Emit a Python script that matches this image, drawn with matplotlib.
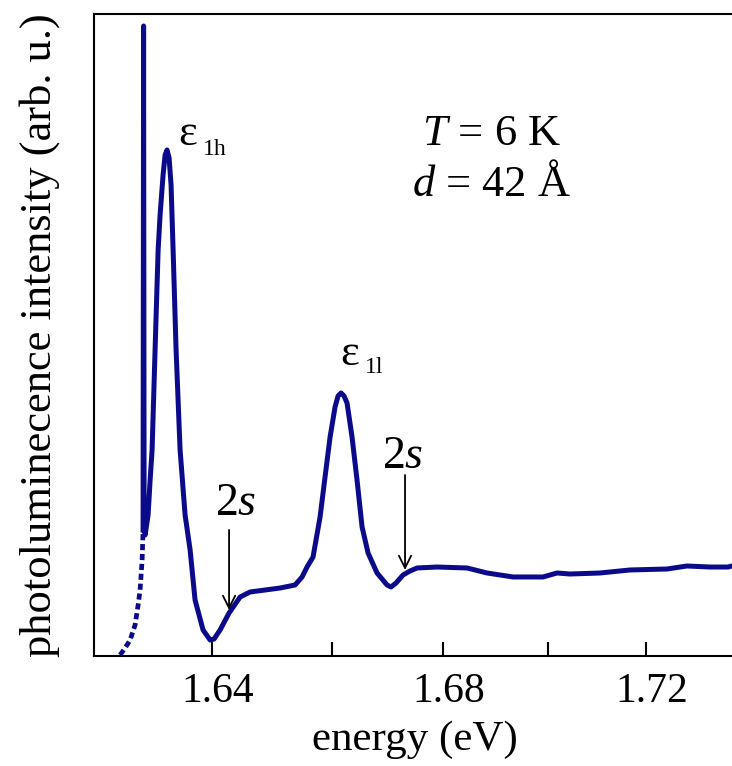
import numpy as np
import matplotlib
matplotlib.use("Agg")
import matplotlib.pyplot as plt
from matplotlib.transforms import ScaledTranslation

plt.rcParams['font.family'] = ['Liberation Serif', 'DejaVu Serif']
plt.rcParams['mathtext.fontset'] = 'custom'
plt.rcParams['mathtext.rm'] = 'Liberation Serif'
plt.rcParams['mathtext.it'] = 'Liberation Serif:italic'

# the energy axis of the original is not linear: calibration of tick energies
AXIS_E = np.array([1.50, 1.62, 1.64, 1.66, 1.68, 1.70, 1.72, 1.74, 1.90])
AXIS_POS = np.array([-677., 85., 212., 332., 443., 548., 646., 738., 1474.])

# low-energy edge (dashed part)
E_EDGE = [1.62551, 1.62630, 1.62709, 1.62787, 1.62835, 1.62866, 1.62898, 1.62913]
I_EDGE = [0.16, 1.25, 2.49, 4.83, 7.94, 10.28, 14.95, 19.63]

# photoluminescence spectrum
E_PL = [1.62913, 1.62921, 1.62929, 1.62945, 1.62992, 1.63024, 1.63055, 1.63102,
        1.63150, 1.63181, 1.63228, 1.63260, 1.63291, 1.63323, 1.63354, 1.63386,
        1.63433, 1.63496, 1.63575, 1.63654, 1.63732, 1.63858, 1.63969, 1.64033,
        1.64133, 1.64283, 1.64467, 1.64633, 1.64883, 1.65133, 1.65383, 1.65500,
        1.65583, 1.65683, 1.65800, 1.65883, 1.65967, 1.66054, 1.66108, 1.66162,
        1.66216, 1.66270, 1.66360, 1.66450, 1.66541, 1.66649, 1.66811, 1.66991,
        1.67063, 1.67153, 1.67279, 1.67405, 1.67532, 1.67892, 1.68457, 1.68838,
        1.69333, 1.69905, 1.70184, 1.70449, 1.71061, 1.71673, 1.72457, 1.72891,
        1.73391, 1.73783, 1.73870]
I_PL = [19.63, 98.13, 24.30, 18.85, 21.96, 27.41, 32.09, 47.66,
        63.24, 68.69, 74.92, 78.04, 78.82, 77.57, 73.36, 63.24,
        47.66, 32.09, 21.96, 16.51, 8.72, 4.05, 2.49, 2.65,
        4.05, 6.70, 9.19, 9.97, 10.28, 10.59, 11.06, 12.31,
        13.86, 15.42, 21.65, 27.88, 34.11, 38.79, 40.50, 40.97,
        40.50, 39.41, 34.11, 27.41, 20.09, 16.04, 12.93, 11.06,
        10.75, 11.37, 12.62, 13.24, 13.71, 13.86, 13.71, 12.93,
        12.31, 12.31, 12.93, 12.77, 12.93, 13.40, 13.55, 14.02,
        13.86, 13.86, 14.02]

# 2s features: energy, arrow tip, arrow tail
E_2S = [1.64283, 1.67315]
TIP_2S = [7.17, 13.40]
TAIL_2S = [19.63, 28.19]

MAJOR = [1.64, 1.68, 1.72]
MAJOR_LABELS = ['1.64', '1.68', '1.72']
MINOR = [1.66, 1.70]
LINE = '#0a0a8a'


def fwd(e):
    return np.interp(e, AXIS_E, AXIS_POS)


def inv(p):
    return np.interp(p, AXIS_POS, AXIS_E)


fig = plt.figure(figsize=(7.32, 7.66), dpi=100)
ax = fig.add_axes([94 / 732, 110 / 766, 638 / 732, 642 / 766])
ax.set_xscale('function', functions=(fwd, inv))

ax.plot(E_EDGE, I_EDGE, color=LINE, lw=3.4, ls=(0, (1.3, 0.8)))
ax.plot(E_PL, I_PL, color=LINE, lw=3.6, solid_joinstyle='round')

for e, tip, tail in zip(E_2S, TIP_2S, TAIL_2S):
    ax.annotate('', xy=(e, tip), xytext=(e, tail),
                arrowprops=dict(arrowstyle='->', lw=1.3, color='black',
                                shrinkA=0, shrinkB=0, mutation_scale=22))

ax.text(1.6440, 21.96, '2$s$', fontsize=33, ha='center', va='baseline')
ax.text(1.6728, 29.28, '2$s$', fontsize=33, ha='center', va='baseline')

ax.text(1.63465, 79.6, 'ε', fontsize=32, ha='left', va='baseline')
ax.text(1.63858, 78.04, '1h', fontsize=17, ha='left', va='baseline')
ax.text(1.66144, 45.33, 'ε', fontsize=32, ha='left', va='baseline')
ax.text(1.66595, 44.08, '1l', fontsize=17, ha='left', va='baseline')

ax.text(1.68933, 79.6, '$T$ = 6 K', fontsize=32, ha='center', va='baseline')
ax.text(1.68925, 71.65, '$d$ = 42 Å', fontsize=32, ha='center', va='baseline')

ax.set_xlim(1.6214, 1.7387)
ax.set_ylim(0, 100)
ax.set_xticks(MAJOR)
ax.set_xticklabels(MAJOR_LABELS)
ax.set_xticks(MINOR, minor=True)
ax.set_yticks([])
ax.tick_params(axis='x', which='both', direction='in', length=10, width=1.5,
               labelsize=30, pad=12)
# labels sit a little to the right of their ticks in the original
shift = ScaledTranslation(6 / 100, 0, fig.dpi_scale_trans)
for lbl in ax.get_xticklabels():
    lbl.set_transform(lbl.get_transform() + shift)
for side in ['left', 'bottom', 'top']:
    ax.spines[side].set_linewidth(1.5)
ax.spines['right'].set_visible(False)

ax.set_xlabel('energy (eV)', fontsize=31)
ax.xaxis.set_label_coords(0.503, -0.1)
ax.set_ylabel('photoluminecence intensity (arb. u.)', fontsize=32)
ax.yaxis.set_label_coords(-0.053, 0.5)

fig.savefig('out.png', dpi=100)
